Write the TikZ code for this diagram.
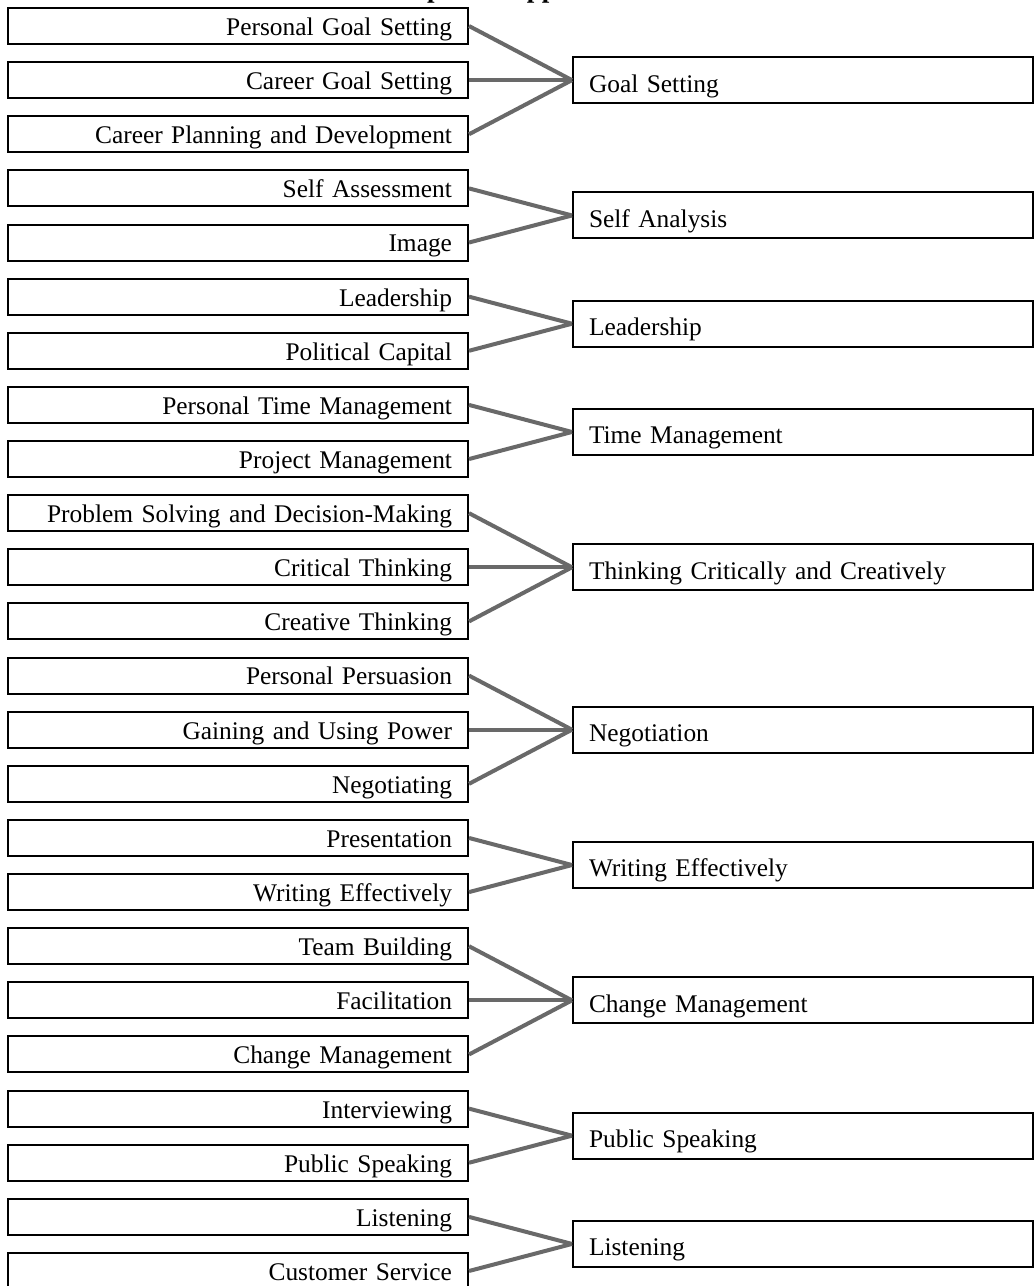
\documentclass[tikz,border=0pt]{standalone}
\usepackage{fontspec}
\setmainfont{Liberation Serif}
\usetikzlibrary{calc}

\definecolor{linkgray}{RGB}{105,105,105}
\tikzset{
    lbox/.style={draw, line width=1pt, text width=214pt, align=right, inner xsep=8pt, inner ysep=0pt, minimum height=18pt, text height=9.4pt, text depth=0pt, font=\fontsize{12.7pt}{14pt}\selectfont},
    rbox/.style={draw, line width=1pt, text width=214pt, align=left, inner xsep=8pt, inner ysep=0pt, minimum height=23pt, text height=11.9pt, text depth=0pt, font=\fontsize{12.7pt}{14pt}\selectfont},
    link/.style={line width=2pt, color=linkgray}
}

\begin{document}
\begin{tikzpicture}
    \useasboundingbox (0,0) rectangle (517.5pt,-643pt);

    \node[anchor=base west, font=\fontsize{13.5pt}{15pt}\selectfont\bfseries] (title) at (171pt,1.5pt) {Development Approach};

    % left column
    \foreach \txt [count=\i] in {Personal Goal Setting, Career Goal Setting, Career Planning and Development,
        Self Assessment, Image, Leadership, Political Capital, Personal Time Management, Project Management,
        Problem Solving and Decision-Making, Critical Thinking, Creative Thinking,
        Personal Persuasion, Gaining and Using Power, Negotiating, Presentation, Writing Effectively,
        Team Building, Facilitation, Change Management, Interviewing, Public Speaking,
        Listening, Customer Service}
        \node[lbox] (l\i) at (119pt,{-13pt-27.065pt*(\i-1)}) {\txt};

    % right column and links
    \foreach \a/\b/\txt [count=\j] in {1/3/Goal Setting, 4/5/Self Analysis, 6/7/Leadership,
        8/9/Time Management, 10/12/Thinking Critically and Creatively, 13/15/Negotiation,
        16/17/Writing Effectively, 18/20/Change Management, 21/22/Public Speaking, 23/24/Listening}
    {
        \node[rbox] (r\j) at ($(l\a)!0.5!(l\b)+(282.5pt,0)$) {\txt};
        \foreach \k in {\a,...,\b}
            \draw[link] (l\k.east) -- (r\j.west);
    }
\end{tikzpicture}
\end{document}
